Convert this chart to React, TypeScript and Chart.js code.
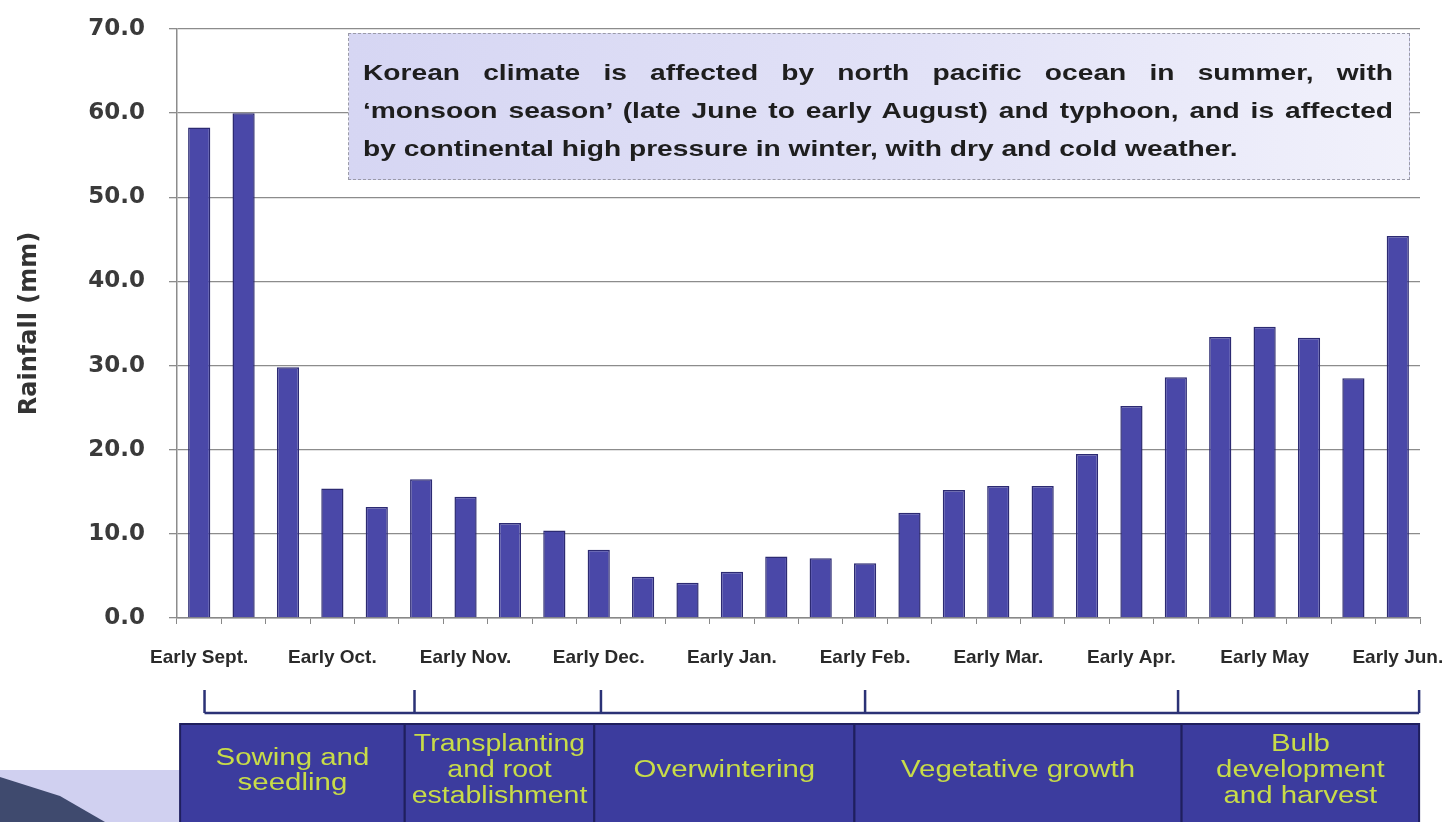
import React, { useEffect, useRef } from "react";
import { Chart, registerables } from "chart.js";

Chart.register(...registerables);

// ---- data ----
const periods: string[] = [
  "Early Sept.", "Mid Sept.", "Late Sept.",
  "Early Oct.", "Mid Oct.", "Late Oct.",
  "Early Nov.", "Mid Nov.", "Late Nov.",
  "Early Dec.", "Mid Dec.", "Late Dec.",
  "Early Jan.", "Mid Jan.", "Late Jan.",
  "Early Feb.", "Mid Feb.", "Late Feb.",
  "Early Mar.", "Mid Mar.", "Late Mar.",
  "Early Apr.", "Mid Apr.", "Late Apr.",
  "Early May", "Mid May", "Late May",
  "Early Jun.",
];

const rainfall: number[] = [
  58.3, 60.0, 29.8,
  15.4, 13.2, 16.5,
  14.4, 11.3, 10.4,
  8.1, 4.9, 4.2,
  5.5, 7.3, 7.1,
  6.5, 12.5, 15.2,
  15.7, 15.7, 19.5,
  25.2, 28.6, 33.4,
  34.6, 33.3, 28.5,
  45.4,
];

const yTicks: number[] = [0, 10, 20, 30, 40, 50, 60, 70];

const stageNames: string[][] = [
  ["Sowing and", "seedling"],
  ["Transplanting", "and root", "establishment"],
  ["Overwintering"],
  ["Vegetative growth"],
  ["Bulb", "development", "and harvest"],
];
// stage box edges and bracket ticks, in category-index units
const stageEdges: number[] = [-0.43, 4.63, 8.9, 14.76, 22.13, 27.48];
const bracketTicks: number[] = [0.12, 4.85, 9.05, 15.0, 22.05, 27.48];

const noteText: string[] = [
  "Korean climate is affected by north pacific ocean in summer, with",
  "\u2018monsoon season\u2019 (late June to early August) and typhoon, and is affected",
  "by continental  high pressure in winter, with dry and cold weather.",
];

const FONT = "'Liberation Sans', Arial, Helvetica, sans-serif";
const WIDE = "'DejaVu Sans', 'Liberation Sans', Arial, sans-serif";
const STRETCH = 1.28;

const stagesPlugin = {
  id: "stages",
  beforeDraw(chart: any) {
    const ctx = chart.ctx;
    ctx.save();
    ctx.fillStyle = "#ffffff";
    ctx.fillRect(0, 0, chart.width, chart.height);
    // slide decoration bottom-left
    ctx.fillStyle = "#d0d0f0";
    ctx.fillRect(0, 770, 180, 52);
    ctx.fillStyle = "#3f4a6e";
    ctx.beginPath();
    ctx.moveTo(0, 777);
    ctx.lineTo(60, 796);
    ctx.lineTo(105, 822);
    ctx.lineTo(0, 822);
    ctx.closePath();
    ctx.fill();
    ctx.restore();
  },
  afterDraw(chart: any) {
    const ctx = chart.ctx;
    const xs = chart.scales.x;
    const px = (v: number) => xs.getPixelForValue(v);
    ctx.save();
    // bracket
    ctx.strokeStyle = "#2b3276";
    ctx.lineWidth = 2.5;
    ctx.beginPath();
    ctx.moveTo(px(bracketTicks[0]), 713);
    ctx.lineTo(px(bracketTicks[bracketTicks.length - 1]), 713);
    for (const t of bracketTicks) {
      ctx.moveTo(px(t), 690);
      ctx.lineTo(px(t), 713);
    }
    ctx.stroke();

    // stage boxes
    const top = 724;
    const bottom = 824;
    for (let i = 0; i < stageNames.length; i++) {
      const x0 = px(stageEdges[i]);
      const x1 = px(stageEdges[i + 1]);
      ctx.fillStyle = "#3c3c9e";
      ctx.fillRect(x0, top, x1 - x0, bottom - top);
      ctx.strokeStyle = "#1f1f5e";
      ctx.lineWidth = 2;
      ctx.strokeRect(x0, top, x1 - x0, bottom - top);
      const lines = stageNames[i];
      let size = 23;
      let sx = STRETCH;
      ctx.font = `${size}px ${FONT}`;
      let maxW = Math.max(...lines.map((l) => ctx.measureText(l).width));
      const avail = x1 - x0 - 14;
      if (maxW * sx > avail) sx = Math.max(1.0, avail / maxW);
      while (maxW * sx > avail && size > 12) {
        size -= 1;
        ctx.font = `${size}px ${FONT}`;
        maxW = Math.max(...lines.map((l) => ctx.measureText(l).width));
      }
      const lh = lines.length > 2 ? 26 : 25;
      const cy = 771;
      ctx.fillStyle = "#c8dc48";
      ctx.textAlign = "center";
      ctx.textBaseline = "middle";
      lines.forEach((l, k) => {
        ctx.save();
        ctx.translate((x0 + x1) / 2, cy + (k - (lines.length - 1) / 2) * lh);
        ctx.scale(sx, 1);
        ctx.fillText(l, 0, 0);
        ctx.restore();
      });
    }
    ctx.restore();
  },
};

export default function App() {
  const ref = useRef<HTMLCanvasElement | null>(null);

  useEffect(() => {
    if (!ref.current) return;
    const chart = new Chart(ref.current, {
      type: "bar",
      data: {
        labels: periods,
        datasets: [
          {
            label: "Rainfall (mm)",
            data: rainfall,
            backgroundColor: "#4a48a8",
            borderColor: "#2c2a72",
            borderWidth: 1.5,
            barPercentage: 0.5,
            categoryPercentage: 1.0,
          },
        ],
      },
      options: {
        animation: false,
        responsive: false,
        maintainAspectRatio: false,
        layout: { padding: { top: 29, right: 30, bottom: 0, left: 0 } },
        plugins: {
          legend: { display: false },
          tooltip: { enabled: false },
          title: { display: false },
        },
        scales: {
          x: {
            offset: true,
            grid: {
              display: true,
              drawOnChartArea: false,
              drawTicks: true,
              tickLength: 6,
              color: "#888888",
              offset: true,
            },
            border: { display: true, color: "#888888", width: 1.5 },
            ticks: {
              autoSkip: false,
              maxRotation: 0,
              minRotation: 0,
              padding: 22,
              color: "#2a2a2a",
              font: { family: FONT, size: 19, weight: "bold" },
              callback: (_v: any, i: number) =>
                periods[i].startsWith("Early") ? periods[i] : "",
            },
            afterFit: (s: any) => {
              s.height = 204;
              s.paddingLeft = 0;
              s.paddingRight = 0;
            },
          },
          y: {
            min: 0,
            max: 70,
            afterBuildTicks: (s: any) => {
              s.ticks = yTicks.map((v) => ({ value: v }));
            },
            grid: {
              color: "#8c8c8c",
              lineWidth: 1.3,
              tickLength: 8,
            },
            border: { display: true, color: "#8c8c8c", width: 1.5 },
            ticks: {
              padding: 24,
              color: "#3a3a3a",
              font: { family: WIDE, size: 23, weight: "bold" },
              callback: (v: any) => Number(v).toFixed(1),
            },
            title: {
              display: true,
              text: "Rainfall (mm)",
              color: "#333333",
              font: { family: WIDE, size: 24, weight: "bold" },
              padding: { top: 15, bottom: 0 },
            },
            afterFit: (s: any) => {
              s.width = 177;
              s.paddingTop = 0;
              s.paddingBottom = 0;
            },
          },
        },
      },
      plugins: [stagesPlugin],
    });
    return () => chart.destroy();
  }, []);

  const innerW = 1030 / STRETCH;

  return (
    <div
      style={{
        position: "absolute",
        left: 0,
        top: 0,
        width: 1450,
        height: 822,
        background: "#ffffff",
        overflow: "hidden",
      }}
    >
      <canvas ref={ref} width={1450} height={822} style={{ width: 1450, height: 822, display: "block" }} />
      <div
        style={{
          position: "absolute",
          left: 348,
          top: 33,
          width: 1062,
          height: 147,
          boxSizing: "border-box",
          background: "linear-gradient(90deg, #d6d6f3 0%, #e2e2f7 55%, #f1f1fb 100%)",
          border: "1.5px dashed #9a9aa8",
          padding: "20px 0 0 14px",
        }}
      >
        <div
          style={{
            width: innerW,
            transform: `scaleX(${STRETCH})`,
            transformOrigin: "left top",
            fontFamily: FONT,
            fontWeight: "bold",
            fontSize: 22,
            lineHeight: "38px",
            color: "#1e1e1e",
          }}
        >
          {noteText.map((t, i) => (
            <div
              key={i}
              style={{
                textAlign: "justify",
                textAlignLast: i < noteText.length - 1 ? "justify" : "left",
                whiteSpace: "nowrap",
              }}
            >
              {t}
            </div>
          ))}
        </div>
      </div>
    </div>
  );
}
